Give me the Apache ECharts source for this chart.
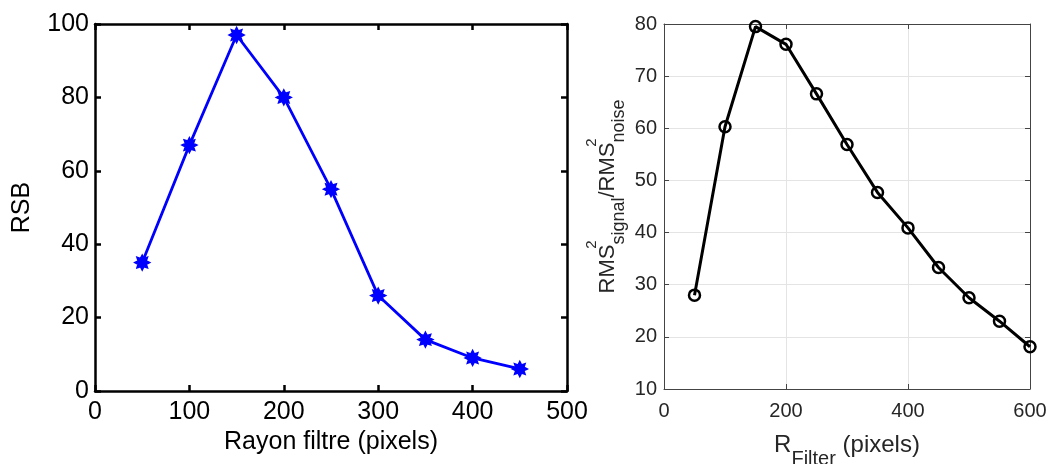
<!DOCTYPE html>
<html>
<head>
<meta charset="utf-8">
<script src="https://cdn.jsdelivr.net/npm/echarts@6/dist/echarts.min.js"></script>
<style>
html,body{margin:0;padding:0;background:#fff;}
#c{width:1049px;height:464px;}
</style>
</head>
<body>
<div id="c"></div>
<script>
// Left chart: RSB vs Rayon filtre
const rsbRadius = [50, 100, 150, 200, 250, 300, 350, 400, 450];
const rsbValues = [35, 67, 97, 80, 55, 26, 14, 9, 6];
// Right chart: RMS^2 ratio vs R_Filter
const rmsRadius = [50, 100, 150, 200, 250, 300, 350, 400, 450, 500, 550, 600];
const rmsRatio = [28.0, 60.3, 79.5, 76.1, 66.6, 56.9, 47.7, 40.9, 33.3, 27.5, 23.0, 18.1];

const FONT = "'Liberation Sans', Arial, sans-serif";
const asterisk = 'path://M200 100 L155 123 L170.7 170.7 L123 155 L100 200 L77 155 L29.3 170.7 L45 123 L0 100 L45 77 L29.3 29.3 L77 45 L100 0 L123 45 L170.7 29.3 L155 77 Z';

const leftLine = {onZero: false, lineStyle: {color: '#000', width: 2.5}};
const leftTick = {show: true, inside: true, length: 6, lineStyle: {color: '#000', width: 2.5}};
const rightLine = {onZero: false, lineStyle: {color: '#444', width: 1}};
const rightTick = {show: true, inside: true, length: 5, lineStyle: {color: '#444', width: 1}};
const rightSplit = {show: true, lineStyle: {color: '#e4e4e4', width: 1}};

const chart = echarts.init(document.getElementById('c'), null, {renderer: 'canvas'});
chart.setOption({
  animation: false,
  backgroundColor: '#fff',
  textStyle: {fontFamily: FONT},
  grid: [
    {left: 95, top: 24, width: 472, height: 367, containLabel: false, outerBoundsMode: 'none'},
    {left: 664, top: 24, width: 366, height: 365, containLabel: false, outerBoundsMode: 'none'}
  ],
  xAxis: [
    {type: 'value', gridIndex: 0, position: 'bottom', min: 0, max: 500, interval: 100,
     axisLine: leftLine, axisTick: leftTick, splitLine: {show: false},
     axisLabel: {color: '#000', fontSize: 25, fontFamily: FONT, margin: 9},
     name: 'Rayon filtre (pixels)', nameLocation: 'middle', nameGap: 34,
     nameTextStyle: {color: '#000', fontSize: 25, fontFamily: FONT}},
    {type: 'value', gridIndex: 0, position: 'top', min: 0, max: 500, interval: 100,
     axisLine: leftLine, axisTick: leftTick, axisLabel: {show: false}, splitLine: {show: false}},
    {type: 'value', gridIndex: 1, position: 'bottom', min: 0, max: 600, interval: 200,
     axisLine: rightLine, axisTick: rightTick, splitLine: rightSplit,
     axisLabel: {color: '#262626', fontSize: 20, fontFamily: FONT, margin: 12},
     name: '{m|R}{sub|Filter}{m| (pixels)}', nameLocation: 'middle', nameGap: 44, nameMoveOverlap: false,
     nameTextStyle: {color: '#262626', fontFamily: FONT,
       rich: {
         m: {fontSize: 24, lineHeight: 24, fontFamily: FONT, color: '#262626'},
         sub: {fontSize: 20, lineHeight: 20, padding: [29, 0, 0, 0], fontFamily: FONT, color: '#262626'}
       }}},
    {type: 'value', gridIndex: 1, position: 'top', min: 0, max: 600, interval: 200,
     axisLine: rightLine, axisTick: rightTick, axisLabel: {show: false}, splitLine: {show: false}}
  ],
  yAxis: [
    {type: 'value', gridIndex: 0, position: 'left', min: 0, max: 100, interval: 20,
     axisLine: leftLine, axisTick: leftTick, splitLine: {show: false},
     axisLabel: {color: '#000', fontSize: 25, fontFamily: FONT, margin: 6},
     name: 'RSB', nameLocation: 'middle', nameGap: 60,
     nameTextStyle: {color: '#000', fontSize: 25, fontFamily: FONT}},
    {type: 'value', gridIndex: 0, position: 'right', min: 0, max: 100, interval: 20,
     axisLine: leftLine, axisTick: leftTick, axisLabel: {show: false}, splitLine: {show: false}},
    {type: 'value', gridIndex: 1, position: 'left', min: 10, max: 80, interval: 10,
     axisLine: rightLine, axisTick: rightTick, splitLine: rightSplit,
     axisLabel: {color: '#262626', fontSize: 20, fontFamily: FONT, margin: 7},
     name: '{m|RMS}{sup|2}{sub|signal}{m|/RMS}{sup|2}{sub|noise}', nameLocation: 'middle', nameGap: 36,
     nameTextStyle: {color: '#262626', fontFamily: FONT, padding: [0, 0, 0, 20],
       rich: {
         m: {fontSize: 22, lineHeight: 22, fontFamily: FONT, color: '#262626'},
         sup: {fontSize: 15, lineHeight: 15, width: 0, padding: [0, 0, 31, 0], fontFamily: FONT, color: '#262626'},
         sub: {fontSize: 18, lineHeight: 18, padding: [23, 0, 0, 0], fontFamily: FONT, color: '#262626'}
       }}},
    {type: 'value', gridIndex: 1, position: 'right', min: 10, max: 80, interval: 10,
     axisLine: rightLine, axisTick: rightTick, axisLabel: {show: false}, splitLine: {show: false}}
  ],
  series: [
    {type: 'line', xAxisIndex: 0, yAxisIndex: 0,
     data: rsbRadius.map((r, i) => [r, rsbValues[i]]),
     lineStyle: {color: '#0000ff', width: 2.8},
     symbol: asterisk, symbolSize: 15,
     itemStyle: {color: '#0000ff', borderColor: '#0000ff', borderWidth: 1.5}},
    {type: 'line', xAxisIndex: 2, yAxisIndex: 2,
     data: rmsRadius.map((r, i) => [r, rmsRatio[i]]),
     lineStyle: {color: '#000', width: 3},
     symbol: 'circle', symbolSize: 11, showAllSymbol: true,
     itemStyle: {color: 'rgba(0,0,0,0)', borderColor: '#000', borderWidth: 2.5}}
  ]
});
</script>
</body>
</html>
